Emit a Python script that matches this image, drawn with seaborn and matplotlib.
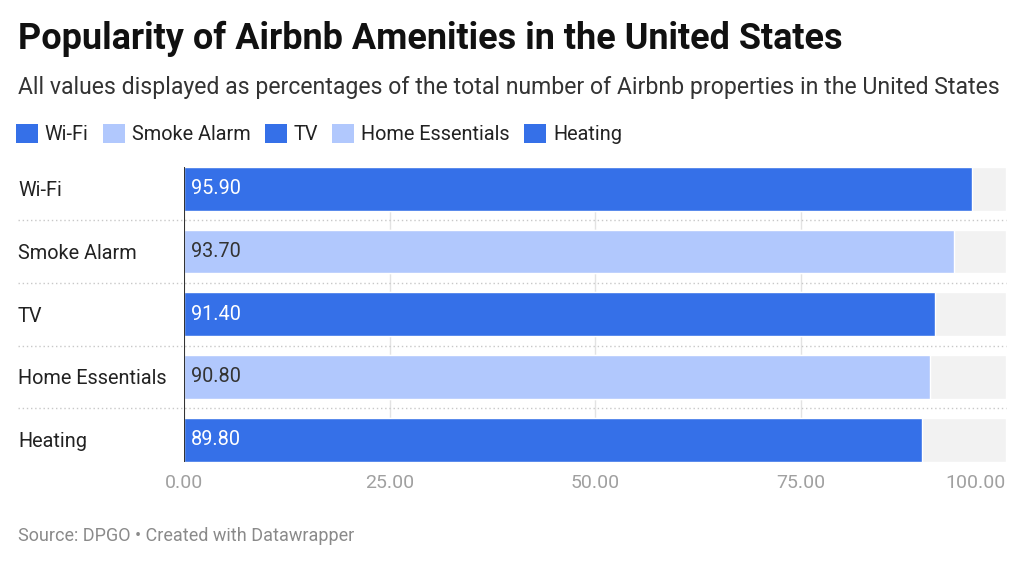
import matplotlib
matplotlib.use("Agg")
import matplotlib.pyplot as plt
from matplotlib.patches import Patch
import seaborn as sns
import pandas as pd

categories = ["Wi-Fi", "Smoke Alarm", "TV", "Home Essentials", "Heating"]
values = [95.90, 93.70, 91.40, 90.80, 89.80]
bar_colors = ["#3570e8", "#b1c8fd", "#3570e8", "#b1c8fd", "#3570e8"]
label_colors = ["white", "#333333", "white", "#333333", "white"]
x_ticks = [0, 25, 50, 75, 100]
x_tick_labels = ["0.00", "25.00", "50.00", "75.00", "100.00"]
max_value = 100

sns.set_theme(style="white")
plt.rcParams["font.family"] = ["Roboto", "DejaVu Sans"]

df = pd.DataFrame({"cat": categories, "val": values, "full": [max_value] * len(categories)})

fig = plt.figure(figsize=(10.24, 5.63), dpi=100)
ax = fig.add_axes([184 / 1024, 1 - 471 / 563, 822 / 1024, 313.5 / 563])

# background bars
sns.barplot(data=df, y="cat", x="full", color="#f2f2f2", width=0.7, ax=ax,
            saturation=1, zorder=1, orient="h")
# value bars
sns.barplot(data=df, y="cat", x="val", hue="cat", palette=bar_colors, width=0.7,
            ax=ax, saturation=1, legend=False, zorder=2, orient="h", dodge=False)

ax.set_xlim(0, max_value)
ax.set_ylim(len(categories) - 0.5, -0.5)
ax.set_xlabel("")
ax.set_ylabel("")
for s in ax.spines.values():
    s.set_visible(False)

n = len(categories)
# vertical grid (only between first and last bar)
ax.vlines(x_ticks[1:-1], -0.35, n - 0.65, color="#e3e3e3", lw=1, zorder=0)
# dotted separators
for i in range(n - 1):
    ax.axhline(i + 0.5, xmin=-166 / 822, xmax=1.0, color="#c8c8c8", lw=1,
               ls=(0, (1, 2)), clip_on=False, zorder=0)
# left baseline
ax.vlines(0, -0.35, n - 0.65, color="#333333", lw=1.5, zorder=3)

# value labels
for i, (v, c) in enumerate(zip(values, label_colors)):
    ax.text(0.85, i, f"{v:.2f}", color=c, va="center", ha="left", fontsize=14.3, zorder=4)

ax.set_xticks(x_ticks)
ax.set_xticklabels(x_tick_labels, color="#a0a0a0", fontsize=14)
ax.get_xticklabels()[-1].set_ha("right")
ax.tick_params(axis="x", length=0, pad=2)
ax.set_yticks(range(n))
ax.set_yticklabels(categories, fontsize=14.3, color="#222222", ha="left")
ax.tick_params(axis="y", length=0, pad=166 * 0.72)

fig.text(18 / 1024, 1 - 49 / 563, "Popularity of Airbnb Amenities in the United States",
         fontsize=25.9, fontweight="bold", color="#111111", ha="left", va="baseline")
fig.text(18 / 1024, 1 - 94 / 563,
         "All values displayed as percentages of the total number of Airbnb properties in the United States",
         fontsize=16.6, color="#333333", ha="left", va="baseline")
fig.text(18 / 1024, 1 - 541 / 563, "Source: DPGO \u2022 Created with Datawrapper",
         fontsize=13, color="#8a8a8a", ha="left", va="baseline")

handles = [Patch(facecolor=c, edgecolor="none") for c in bar_colors]
fig.legend(handles, categories, loc="upper left", bbox_to_anchor=(8 / 1024, 1 - 116 / 563),
           ncol=5, frameon=False, fontsize=14.3, handlelength=1.1, handleheight=1.1,
           handletextpad=0.35, columnspacing=0.72, borderaxespad=0, labelcolor="#222222")

fig.savefig("out.png", dpi=100)
